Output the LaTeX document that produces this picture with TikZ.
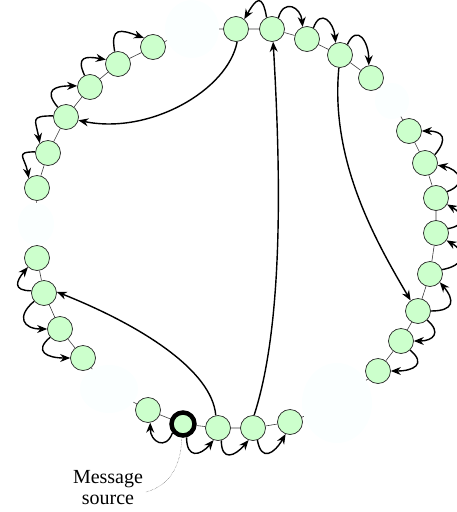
\documentclass[tikz,border=0pt]{standalone}
\usepackage{fontspec}
\setmainfont{Liberation Serif}
\usetikzlibrary{arrows.meta,shapes.geometric,backgrounds}
\definecolor{nodegreen}{RGB}{204,255,204}
\definecolor{gapfill}{RGB}{251,255,255}
\definecolor{ringgray}{RGB}{60,60,60}
\begin{document}
\begin{tikzpicture}[x=1pt,y=-1pt,
  peer/.style={circle, draw=black!85, line width=0.7pt, fill=nodegreen, minimum size=25pt, inner sep=0pt},
  srcpeer/.style={peer, draw=black, line width=4.5pt, minimum size=23pt},
  gapzone/.style={ellipse, fill=gapfill, inner sep=0pt},
  ring/.style={draw=ringgray, line width=0.6pt},
  hop/.style={-{Stealth[length=10pt,width=8pt]}, line width=1.4pt, looseness=2},
  pointer/.style={densely dotted, line width=0.4pt, draw=black!80}]
\useasboundingbox (0,0) rectangle (457,512);
% top cluster
\node[peer] (T1) at (236,29) {};
\node[peer] (T2) at (272,29) {};
\node[peer] (T3) at (307,39) {};
\node[peer] (T4) at (340,55) {};
\node[peer] (T5) at (371,78) {};
% right cluster
\node[peer] (R1) at (409,131) {};
\node[peer] (R2) at (425,163) {};
\node[peer] (R3) at (436,198) {};
\node[peer] (R4) at (436,233) {};
\node[peer] (R5) at (430,274) {};
\node[peer] (R6) at (418,311) {};
\node[peer] (R7) at (401,341) {};
\node[peer] (R8) at (378,371) {};
% bottom cluster
\node[peer] (B5) at (290,422) {};
\node[peer] (B4) at (253,428) {};
\node[peer] (B3) at (218,428) {};
\node[srcpeer] (B2) at (183,424) {};
\node[peer] (B1) at (148,410) {};
% left middle cluster
\node[peer] (M4) at (83,358) {};
\node[peer] (M3) at (60,329) {};
\node[peer] (M2) at (44,293) {};
\node[peer] (M1) at (37,258) {};
% upper left cluster
\node[peer] (L6) at (37,188) {};
\node[peer] (L5) at (48,153) {};
\node[peer] (L4) at (66,117) {};
\node[peer] (L3) at (90,87) {};
\node[peer] (L2) at (118,64) {};
\node[peer] (L1) at (153,47) {};
\begin{scope}[on background layer]
\node[gapzone, minimum width=54pt, minimum height=58pt] (E1) at (192,29) {};
\node[gapzone, minimum width=34pt, minimum height=36pt] (E2) at (392,101) {};
\node[gapzone, minimum width=70pt, minimum height=80pt] (E3) at (337,403) {};
\node[gapzone, minimum width=58pt, minimum height=48pt] (E4) at (109,389) {};
\node[gapzone, minimum width=36pt, minimum height=42pt] (E5) at (36,224) {};
\draw[ring] (T1)--(T2)--(T3)--(T4)--(T5)--(E2)--(R1)--(R2)--(R3)--(R4)--(R5)--(R6)--(R7)--(R8)--(E3)--(B5)--(B4)--(B3)--(B2)--(B1)--(E4)--(M4)--(M3)--(M2)--(M1)--(E5)--(L6)--(L5)--(L4)--(L3)--(L2)--(L1)--(E1)--(T1);
\end{scope}
% top hops
\draw[hop] (T2.115) to[out=100,in=60,looseness=2.8] (T1.50);
\draw[hop] (T2.60) to[out=75,in=95] (T3.110);
\draw[hop] (T3.60) to[out=70,in=95] (T4.110);
\draw[hop] (T4.55) to[out=65,in=90] (T5.100);
% right hops
\draw[hop] (R6.0) to[out=0,in=-50] (R5.-40);
\draw[hop] (R5.20) to[out=10,in=-30] (R4.-35);
\draw[hop] (R4.20) to[out=10,in=-30] (R3.-30);
\draw[hop] (R3.30) to[out=20,in=-10] (R2.-10);
\draw[hop] (R2.40) to[out=50,in=0] (R1.0);
\draw[hop] (R6.-45) to[out=-40,in=0] (R7.0);
\draw[hop] (R7.-45) to[out=-40,in=0] (R8.0);
% bottom hops
\draw[hop] (B2.-140) to[out=-110,in=-90] (B1.-80);
\draw[hop] (B2.-75) to[out=-90,in=-130] (B3.-110);
\draw[hop] (B3.-75) to[out=-90,in=-130] (B4.-110);
\draw[hop] (B4.-70) to[out=-80,in=-120] (B5.-110);
% left middle hops
\draw[hop] (M2.170) to[out=180,in=-130] (M1.-135);
\draw[hop] (M2.-140) to[out=-140,in=180] (M3.180);
\draw[hop] (M3.-140) to[out=-140,in=180] (M4.180);
% upper left hops
\draw[hop] (L4.175) to[out=180,in=100] (L5.130);
\draw[hop] (L5.175) to[out=180,in=100] (L6.130);
\draw[hop] (L4.130) to[out=130,in=180] (L3.175);
\draw[hop] (L3.115) to[out=115,in=170] (L2.160);
\draw[hop] (L2.105) to[out=100,in=160] (L1.135);
% long jumps
\draw[hop] (B3.100) .. controls (212,370) and (140,325) .. (M2.5);
\draw[hop] (B4.85) .. controls (285,320) and (280,160) .. (T2.-85);
\draw[hop] (T1.-85) .. controls (228,90) and (150,135) .. (L4.-15);
\draw[hop] (T4.-95) .. controls (330,160) and (375,240) .. (R6.125);
% label
\node[font=\fontsize{20}{21}\selectfont, align=center, inner sep=0pt] (lbl) at (108,488) {Message\\source};
\coordinate (lblend) at (146,492);
\draw[pointer] (B2.-95) .. controls (181,468) and (168,486) .. (lblend);
\end{tikzpicture}
\end{document}
